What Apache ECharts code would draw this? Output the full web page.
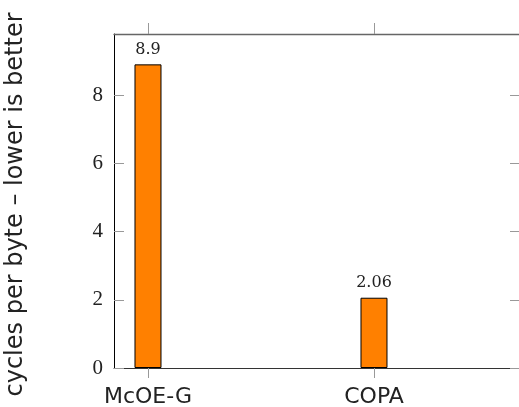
<!DOCTYPE html>
<html><head><meta charset="utf-8">
<script src="https://cdn.jsdelivr.net/npm/echarts@6/dist/echarts.min.js"></script>
<style>html,body{margin:0;padding:0;background:#fff}#c{width:519px;height:407px}</style>
</head><body><div id="c"></div>
<script>
const categories = ['McOE-G', 'COPA'];
const values = [8.9, 2.06];
const yTicks = [0, 2, 4, 6, 8];
const yTitle = 'cycles per byte – lower is better';

const xMin = -0.1504, xMax = 1.646;
const catIdx = categories.map((c, i) => i);
const chart = echarts.init(document.getElementById('c'), null, {renderer: 'canvas'});
chart.setOption({
  animation: false,
  grid: {left: 114, right: -1, top: 34, bottom: 39, containLabel: false, outerBoundsMode: 'none'},
  xAxis: [{
    type: 'value', position: 'bottom', min: xMin, max: xMax,
    splitLine: {show: false},
    axisLine: {onZero: false, lineStyle: {color: '#333', width: 1}},
    axisTick: {show: true, inside: false, length: 10, customValues: catIdx, lineStyle: {color: '#999'}},
    axisLabel: {customValues: catIdx, formatter: v => categories[Math.round(v)] || '',
      fontFamily: 'DejaVu Sans', fontSize: 22, color: '#222', margin: 18}
  }, {
    type: 'value', position: 'top', min: xMin, max: xMax,
    splitLine: {show: false},
    axisLine: {onZero: false, lineStyle: {color: '#666', width: 1.3}},
    axisTick: {show: true, inside: false, length: 11, customValues: catIdx, lineStyle: {color: '#999'}},
    axisLabel: {show: false, customValues: catIdx}
  }],
  yAxis: [{
    type: 'value', min: 0, max: 9.79, interval: 2, position: 'left',
    splitLine: {show: false},
    axisLine: {show: true, onZero: false, lineStyle: {color: '#000'}},
    axisTick: {show: true, inside: true, length: 10, customValues: yTicks, lineStyle: {color: '#999'}},
    axisLabel: {customValues: yTicks, fontFamily: 'Liberation Serif', fontSize: 21, color: '#222', margin: 11},
    name: yTitle, nameLocation: 'middle', nameGap: 86, nameRotate: 90,
    nameTextStyle: {fontFamily: 'DejaVu Sans', fontSize: 24, color: '#222', padding: [0, 7, 0, 0]}
  }, {
    type: 'value', min: 0, max: 9.79, interval: 2, position: 'right',
    splitLine: {show: false},
    axisLine: {show: true, onZero: false, lineStyle: {color: '#666'}},
    axisTick: {show: true, inside: true, length: 10, customValues: yTicks, lineStyle: {color: '#999'}},
    axisLabel: {show: false, customValues: yTicks}
  }],
  series: [{
    type: 'bar', xAxisIndex: 0, yAxisIndex: 0,
    data: values.map((v, i) => [i, v]),
    barWidth: 27,
    itemStyle: {color: '#ff8000', borderColor: '#000', borderWidth: 1},
    label: {show: true, position: 'top', distance: 7, formatter: p => String(values[p.dataIndex]),
      fontFamily: 'DejaVu Serif', fontSize: 16, color: '#222'}
  }]
});
</script></body></html>
